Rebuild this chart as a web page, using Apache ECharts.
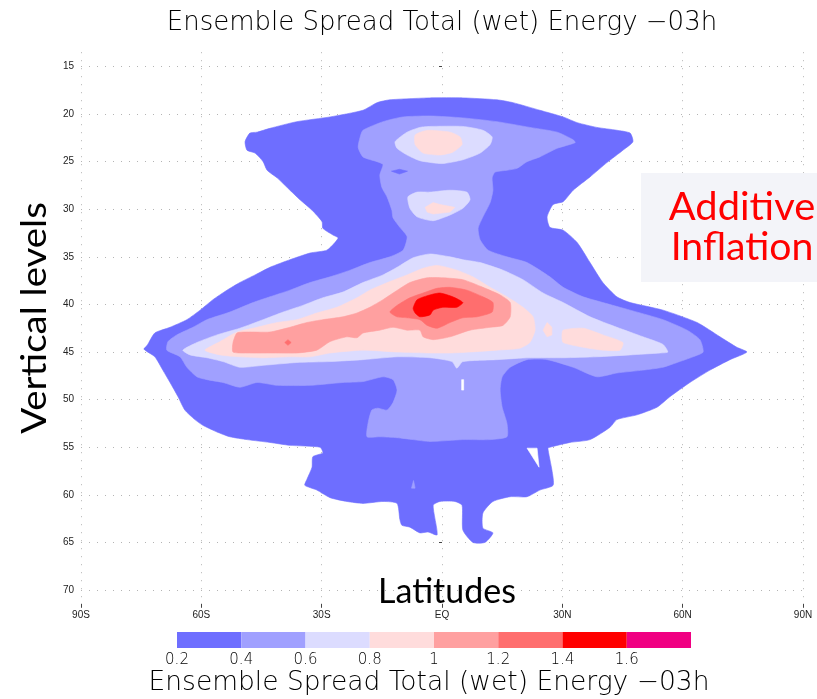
<!DOCTYPE html>
<html>
<head>
<meta charset="utf-8">
<script src="https://cdn.jsdelivr.net/npm/echarts@6/dist/echarts.min.js"></script>
<style>
  html, body { margin: 0; padding: 0; background: #ffffff; }
  #chart { width: 817px; height: 699px; }
</style>
</head>
<body>
<div id="chart"></div>
<script>
// Axis ticks
const latitudeTicks = [-90, -60, -30, 0, 30, 60, 90];
const latitudeLabels = ['90S', '60S', '30S', 'EQ', '30N', '60N', '90N'];
const levelTicks = [15, 20, 25, 30, 35, 40, 45, 50, 55, 60, 65, 70];

// Shading intervals of the spread and their fills
const bandEdges = [0.2, 0.4, 0.6, 0.8, 1.0, 1.2, 1.4, 1.6, 1.8];
const bandColors = ['#6e6eff', '#a0a0ff', '#dcdcff', '#ffdcdc', '#ffa0a0', '#ff6e6e', '#ff0000', '#f00082'];

// Filled contour outlines, [latitude, vertical level] pairs
const contour02 = [[
  [-47.9,22.0],[-49.1,22.9],[-48.6,23.8],[-46.6,24.1],[-44.6,25.0],[-43.6,25.9],[-41.1,26.7],[-37.9,28.0],
  [-35.4,29.0],[-32.4,30.1],[-29.9,31.3],[-29.7,32.0],[-27.2,32.7],[-25.9,33.0],[-26.7,33.5],[-28.7,34.3],
  [-32.9,34.6],[-37.9,35.3],[-42.9,36.1],[-46.6,36.9],[-50.4,37.7],[-53.6,38.5],[-57.1,39.5],[-60.3,40.6],
  [-63.6,41.6],[-67.8,42.4],[-71.6,43.0],[-73.5,44.3],[-74.3,44.7],[-71.6,45.5],[-69.6,46.9],[-67.8,48.2],
  [-65.8,49.7],[-64.1,51.1],[-61.6,52.1],[-59.6,52.7],[-56.1,53.4],[-52.9,53.9],[-48.6,54.2],[-42.9,54.5],
  [-37.9,54.8],[-30.4,55.0],[-29.7,55.6],[-32.2,56.0],[-32.4,57.1],[-33.7,58.4],[-34.2,59.0],[-31.2,59.5],
  [-27.9,60.3],[-23.7,60.7],[-19.7,60.9],[-14.7,60.7],[-11.2,60.9],[-10.5,62.6],[-10.0,63.2],[-8.0,63.4],
  [-5.5,64.0],[-3.5,63.9],[-1.2,64.2],[-2.2,61.1],[-0.5,60.7],[3.2,60.7],[5.0,61.1],[5.2,63.7],
  [7.7,65.0],[10.7,65.0],[12.7,64.0],[10.2,63.5],[10.2,61.9],[12.7,60.7],[17.0,60.2],[21.2,60.2],
  [24.4,59.5],[27.7,59.0],[27.4,57.4],[26.4,55.1],[26.9,55.0],[31.9,54.5],[36.9,54.2],[41.9,52.9],
  [43.6,52.1],[48.6,51.6],[53.6,50.8],[56.8,49.7],[61.8,48.2],[66.8,46.9],[71.8,45.8],[76.0,45.0],
  [73.5,44.5],[69.3,43.4],[63.6,41.9],[55.1,40.6],[46.9,39.8],[43.6,39.2],[40.1,37.7],[36.9,35.6],
  [33.7,33.5],[30.2,32.2],[26.9,31.9],[26.2,30.8],[27.7,29.5],[30.2,29.2],[32.7,28.0],[36.9,26.6],
  [41.1,25.1],[45.1,23.8],[47.6,22.9],[46.9,22.0],[43.6,21.7],[38.6,21.4],[33.7,20.9],[30.2,20.3],
  [24.4,19.6],[17.7,18.8],[13.7,18.5],[5.2,18.3],[-3.0,18.3],[-13.0,18.5],[-16.2,18.8],[-19.7,19.6],
  [-27.9,20.3],[-36.2,20.8],[-42.9,21.5],[-46.1,21.9]
]];

const contour04 = [[
  [-20.4,22.4],[-19.7,21.7],[-14.7,20.8],[-9.7,20.3],[-3.0,20.2],[5.2,20.4],[13.7,20.8],[21.9,21.4],
  [28.7,21.9],[32.7,22.7],[33.2,23.0],[28.7,23.6],[24.4,24.5],[21.2,25.0],[18.7,25.7],[16.2,25.9],
  [13.2,26.1],[12.5,26.7],[12.7,28.0],[12.0,29.3],[10.2,30.8],[9.0,32.0],[9.5,33.2],[11.5,34.3],
  [16.2,35.0],[21.2,35.6],[26.9,37.1],[30.2,38.2],[35.2,39.2],[40.1,39.8],[46.9,40.6],[55.1,41.6],
  [61.1,42.7],[64.3,43.7],[65.1,45.0],[62.6,45.5],[58.6,46.1],[55.1,46.6],[50.1,46.9],[43.6,47.2],
  [38.6,47.6],[32.7,46.6],[26.2,45.8],[21.2,45.8],[17.0,46.6],[15.0,47.6],[14.5,49.0],[15.0,50.8],
  [16.2,52.5],[16.2,53.9],[12.0,54.2],[5.2,54.2],[-3.0,54.4],[-7.2,54.2],[-11.2,54.0],[-15.5,53.9],
  [-18.7,53.9],[-18.4,52.4],[-17.5,51.1],[-16.0,50.9],[-13.7,51.1],[-12.2,50.3],[-11.2,49.0],[-12.2,47.9],
  [-14.7,47.6],[-19.7,48.1],[-24.7,48.2],[-32.9,48.5],[-41.1,48.5],[-46.1,48.2],[-50.4,48.7],[-54.6,48.2],
  [-58.6,47.9],[-61.1,47.6],[-63.6,46.6],[-65.3,45.5],[-68.6,44.8],[-68.3,43.9],[-66.1,43.2],[-62.1,42.4],
  [-58.6,41.6],[-52.9,40.8],[-47.1,39.8],[-42.9,39.2],[-37.9,38.5],[-32.9,37.7],[-27.9,37.1],[-22.9,36.4],
  [-18.0,35.6],[-13.0,35.0],[-9.7,34.3],[-8.7,32.9],[-10.5,31.9],[-12.2,30.9],[-12.5,30.1],[-13.7,28.7],
  [-15.0,27.7],[-15.5,26.4],[-14.7,25.3],[-16.2,25.0],[-19.7,24.5],[-20.9,23.5]
], [
  [-7.6,59.3],[-7.1,58.5],[-6.7,59.3]
]];

// Small pocket of the lowest interval inside the 0.4 column
const pocket02 = [[
  [-12.6,26.0],[-10.6,25.8],[-8.6,26.0],[-10.6,26.3]
]];

const contour06 = [[
  [-11.7,22.9],[-8.7,21.9],[-5.5,21.4],[-3.0,21.3],[5.2,21.3],[10.2,21.7],[12.5,22.4],[12.0,23.2],
  [9.5,24.1],[5.2,24.8],[0.0,25.2],[-5.5,24.9],[-8.7,24.3],[-11.2,23.6]
], [
  [-8.5,28.7],[-6.2,28.2],[-3.0,28.2],[2.0,28.0],[6.2,28.2],[7.0,29.0],[5.2,29.9],[2.0,30.6],
  [-2.2,31.2],[-6.2,30.8],[-8.0,29.9]
], [
  [-64.6,44.8],[-61.1,44.0],[-56.1,43.2],[-50.4,42.5],[-44.6,41.6],[-39.6,40.8],[-34.7,40.1],[-29.7,39.3],
  [-24.7,38.7],[-19.7,37.7],[-14.7,36.9],[-11.2,36.1],[-7.2,35.1],[-3.0,34.7],[2.0,35.0],[5.2,35.3],
  [9.5,35.6],[15.2,36.4],[20.2,37.4],[25.2,38.8],[30.2,39.8],[36.9,41.3],[43.6,42.4],[50.1,43.4],
  [55.1,44.2],[56.3,45.0],[54.4,45.1],[46.9,45.3],[38.6,45.5],[30.2,45.6],[21.9,45.6],[13.7,45.8],
  [5.2,46.0],[3.7,46.7],[2.5,46.0],[-3.0,45.6],[-11.2,45.5],[-19.7,45.8],[-27.9,46.0],[-36.2,46.1],
  [-44.6,46.4],[-50.4,46.6],[-54.6,46.0],[-58.6,45.6],[-62.8,45.3]
]];

const contour08 = [[
  [-6.7,22.2],[-4.7,21.8],[-3.0,21.7],[2.0,21.9],[4.5,22.4],[5.0,23.2],[2.7,24.0],[-0.5,24.3],
  [-4.7,24.1],[-6.7,23.2]
], [
  [-4.2,29.8],[-2.2,29.3],[-0.5,29.5],[3.2,29.8],[2.0,30.3],[-2.2,30.5],[-3.7,30.3]
], [
  [-59.1,44.8],[-55.3,43.9],[-51.1,42.9],[-46.1,42.4],[-41.1,41.9],[-36.2,41.6],[-31.2,40.9],[-26.2,40.3],
  [-21.2,39.3],[-18.0,38.5],[-13.0,37.6],[-8.7,36.9],[-4.7,36.2],[-1.2,35.9],[3.7,36.4],[7.7,37.1],
  [12.0,38.2],[16.2,39.2],[20.2,40.3],[22.7,41.3],[23.2,42.7],[21.9,44.0],[19.4,44.6],[13.7,44.8],
  [7.0,45.0],[2.0,45.1],[-3.0,45.1],[-11.2,45.0],[-19.7,44.8],[-27.9,45.1],[-32.9,45.5],[-37.9,45.5],
  [-44.6,45.6],[-50.4,45.5],[-55.3,45.3]
], [
  [25.2,42.7],[26.2,41.9],[27.4,42.4],[27.4,43.2],[26.2,43.4]
], [
  [30.2,42.7],[35.2,42.5],[40.1,43.2],[45.1,44.0],[44.4,44.8],[40.1,44.8],[35.2,44.5],[30.2,44.0],[29.9,43.4]
]];

const contour10 = [[
  [-52.1,44.0],[-51.1,43.0],[-47.9,42.9],[-42.9,42.9],[-37.9,42.4],[-33.7,41.9],[-29.7,41.6],[-24.7,41.3],
  [-21.2,40.9],[-18.0,40.3],[-14.7,39.5],[-12.2,38.8],[-8.0,37.7],[-3.7,37.2],[0.2,37.2],[5.2,37.4],
  [10.2,38.2],[14.5,39.0],[17.0,39.8],[17.0,41.3],[15.2,42.2],[12.0,42.4],[7.0,42.7],[2.0,43.4],
  [-2.2,43.7],[-4.7,43.4],[-5.5,42.7],[-8.7,42.7],[-12.2,42.4],[-15.5,42.7],[-19.7,43.0],[-21.2,43.5],
  [-23.7,43.4],[-27.9,43.9],[-31.2,44.8],[-36.2,45.1],[-42.1,45.1],[-48.6,45.1],[-52.1,45.0]
]];

const contour12 = [[
  [-13.0,40.8],[-11.2,40.1],[-8.0,39.3],[-4.7,38.8],[-1.2,38.3],[2.0,38.2],[6.2,38.5],[10.2,39.2],
  [12.7,39.8],[12.5,40.8],[8.7,41.3],[5.2,41.4],[2.0,41.9],[-1.2,42.5],[-3.7,42.2],[-5.5,41.6],
  [-8.7,41.4],[-11.2,41.3]
], [
  [-39.2,44.0],[-38.4,43.7],[-37.6,44.0],[-38.4,44.3]
]];

const contour14 = [[
  [-7.2,40.4],[-6.2,39.5],[-3.0,39.0],[-0.5,38.8],[2.7,39.2],[5.2,39.8],[3.7,40.3],[0.2,40.3],
  [-2.2,40.6],[-3.0,41.1],[-5.5,41.3],[-6.7,40.9]
]];

// Gaps below the lowest interval inside the shaded area
const gaps = [[
  [21.2,55.1],[23.7,55.1],[24.2,57.1]
], [
  [4.9,47.9],[5.4,47.9],[5.4,49.0],[4.9,49.0]
]];

// Drawing order: each layer is painted over the previous ones
const layers = [
  { name: '0.2', polys: contour02, band: 0 },
  { name: '0.4', polys: contour04, band: 1 },
  { name: '0.2 pocket', polys: pocket02, band: 0 },
  { name: '0.6', polys: contour06, band: 2 },
  { name: '0.8', polys: contour08, band: 3 },
  { name: '1.0', polys: contour10, band: 4 },
  { name: '1.2', polys: contour12, band: 5 },
  { name: '1.4', polys: contour14, band: 6 },
  { name: 'gaps', polys: gaps, band: -1 }
];

const chart = echarts.init(document.getElementById('chart'), null, { renderer: 'canvas' });

const gridDots = { color: '#b4b4b4', width: 1, type: [1, 7] };

function contourSeries(layer) {
  const fill = layer.band < 0 ? '#ffffff' : bandColors[layer.band];
  return {
    type: 'custom',
    name: layer.name,
    xAxisIndex: 0,
    yAxisIndex: 0,
    silent: true,
    clip: true,
    data: layer.polys.map(p => p[0]),
    renderItem: (params, api) => {
      const pts = layer.polys[params.dataIndex];
      return {
        type: 'polygon',
        shape: { points: pts.map(pt => api.coord(pt)), smooth: pts.length > 8 ? 0.2 : 0 },
        style: { fill: fill, stroke: fill, lineWidth: 0.6 }
      };
    }
  };
}

const colorbarSeries = {
  type: 'custom',
  name: 'colorbar',
  xAxisIndex: 1,
  yAxisIndex: 1,
  silent: true,
  data: bandColors.map((c, i) => [bandEdges[i], bandEdges[i + 1]]),
  renderItem: (params, api) => {
    const a = api.coord([api.value(0), 0]);
    const b = api.coord([api.value(1), 1]);
    return {
      type: 'rect',
      shape: { x: a[0], y: b[1], width: b[0] - a[0], height: a[1] - b[1] },
      style: { fill: bandColors[params.dataIndex] }
    };
  }
};

const titleText = 'Ensemble Spread Total (wet) Energy \u221203h';

const option = {
  animation: false,
  backgroundColor: '#ffffff',
  grid: [
    { left: 81, right: 14, top: 52.2, bottom: 95.2, containLabel: false },
    { left: 177, width: 514, top: 632, height: 16, containLabel: false }
  ],
  xAxis: [{
    type: 'value',
    gridIndex: 0,
    min: -90, max: 90, interval: 30,
    axisLine: { show: false },
    axisTick: { show: true, length: 4, lineStyle: { color: '#444', width: 1 } },
    axisLabel: {
      margin: 6, fontSize: 10, color: '#222', fontFamily: 'Liberation Sans',
      formatter: v => latitudeLabels[latitudeTicks.indexOf(v)] || ''
    },
    splitLine: { show: true, lineStyle: gridDots }
  }, {
    type: 'value',
    gridIndex: 1,
    min: 0.2, max: 1.8, interval: 0.2,
    axisLine: { show: false },
    axisTick: { show: false },
    splitLine: { show: false },
    axisLabel: {
      margin: 5, fontSize: 15, color: '#000', fontFamily: 'DejaVu Sans', fontWeight: 200,
      formatter: v => (Math.abs(v - 1.8) < 1e-6 ? '' : String(Number(v.toFixed(1))))
    }
  }],
  yAxis: [{
    type: 'value',
    gridIndex: 0,
    inverse: true,
    min: 13.5, max: 71.45,
    axisLine: { show: false },
    axisTick: { show: true, length: 3, customValues: levelTicks, lineStyle: { color: '#444', width: 1 } },
    axisLabel: { margin: 7, fontSize: 10, color: '#222', fontFamily: 'Liberation Sans', customValues: levelTicks },
    splitLine: { show: true, lineStyle: gridDots }
  }, {
    type: 'value',
    gridIndex: 1,
    min: 0, max: 1,
    show: false
  }],
  graphic: [
    { type: 'text', x: 442, y: 23, z: 10,
      style: { text: titleText, align: 'center', verticalAlign: 'middle',
               font: '200 26px "DejaVu Sans"', fill: '#000' } },
    { type: 'text', x: 429, y: 683, z: 10,
      style: { text: titleText, align: 'center', verticalAlign: 'middle',
               font: '200 26.5px "DejaVu Sans"', fill: '#000' } },
    { type: 'text', x: 35, y: 318, rotation: Math.PI / 2, scaleX: 1.13, z: 10,
      style: { text: 'Vertical levels', align: 'center', verticalAlign: 'middle',
               font: '34px Lato', fill: '#000' } },
    { type: 'text', x: 447, y: 592, z: 10,
      style: { text: 'Latitudes', align: 'center', verticalAlign: 'middle',
               font: '34px Lato', fill: '#000' } },
    { type: 'rect', shape: { x: 641, y: 173, width: 176, height: 109 }, z: 5,
      style: { fill: '#f3f4f9' } },
    { type: 'text', x: 742, y: 208, scaleX: 1.05, z: 10,
      style: { text: 'Additive', align: 'center', verticalAlign: 'middle',
               font: '38px Lato', fill: '#ff0000' } },
    { type: 'text', x: 742, y: 248, scaleX: 1.03, z: 10,
      style: { text: 'Inflation', align: 'center', verticalAlign: 'middle',
               font: '38px Lato', fill: '#ff0000' } }
  ],
  series: layers.map(contourSeries).concat([colorbarSeries])
};

chart.setOption(option);
</script>
</body>
</html>
